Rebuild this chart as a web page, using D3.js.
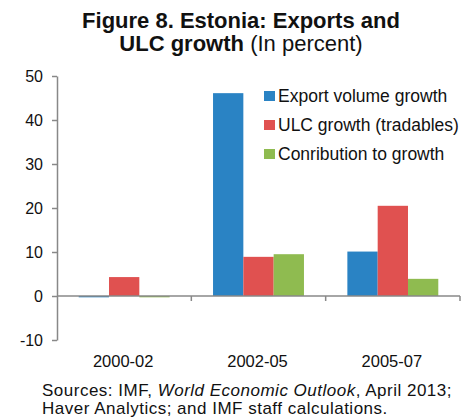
<!DOCTYPE html>
<html><head><meta charset="utf-8">
<script src="https://cdn.jsdelivr.net/npm/d3@7"></script>
<style>body{margin:0;background:#fff}svg{display:block;font-family:"Liberation Sans",Arial,sans-serif}</style>
</head><body><svg id="c" width="465" height="419"></svg>
<script>
const categories = ["2000-02", "2002-05", "2005-07"];
const seriesNames = ["Export volume growth", "ULC growth (tradables)", "Conribution to growth"];
const exportVolume = [-0.3, 46.1, 10.1];
const ulcGrowth = [4.3, 8.9, 20.5];
const contribution = [-0.3, 9.5, 3.9];
const yTicks = [-10, 0, 10, 20, 30, 40, 50];
const colors = ["#2a83c4", "#e05150", "#8fbb50"];

(function () {
const series = [exportVolume, ulcGrowth, contribution];
const svg = d3.select("#c");
const mLeft = 57, mRight = 460, mTop = 76, mBottom = 340;
const y = d3.scaleLinear().domain([-10, 50]).range([mBottom, mTop]);
const x = d3.scaleBand().domain(categories).range([mLeft, mRight]).paddingInner(0).paddingOuter(0);
const x1 = d3.scaleBand().domain(d3.range(3)).range([0, x.bandwidth()]).paddingOuter(0.716).paddingInner(0);

// title
const t = svg.append("text").attr("text-anchor", "middle").attr("fill", "#111");
t.append("tspan").attr("x", 241).attr("y", 28).attr("font-weight", "bold").attr("font-size", 22).text("Figure 8. Estonia: Exports and");
const t2 = t.append("tspan").attr("x", 241).attr("y", 51).attr("font-size", 22);
t2.append("tspan").attr("font-weight", "bold").text("ULC growth");
t2.append("tspan").text(" (In percent)");

// bars
const g = svg.append("g");
categories.forEach((c, i) => {
  series.forEach((s, j) => {
    const v = s[i];
    g.append("rect")
      .attr("x", x(c) + x1(j))
      .attr("width", x1.bandwidth())
      .attr("y", y(Math.max(0, v)))
      .attr("height", Math.max(1, Math.abs(y(v) - y(0))))
      .attr("fill", colors[j]);
  });
});

// y axis
const yAxis = svg.append("g").attr("transform", `translate(${mLeft},0)`)
  .call(d3.axisLeft(y).tickValues(yTicks).tickSize(5).tickPadding(9).tickSizeOuter(0).tickFormat(d => String(d)));
yAxis.select(".domain").attr("stroke", "#888").attr("stroke-width", 1.5);
yAxis.selectAll(".tick line").attr("stroke", "#888").attr("stroke-width", 1.5);
yAxis.selectAll("text").attr("font-size", 16).attr("fill", "#111").attr("font-family", "Liberation Sans, Arial, sans-serif");

// x axis at zero
const xAxisG = svg.append("g").attr("transform", `translate(0,${y(0)})`);
xAxisG.append("line").attr("x1", mLeft).attr("x2", mRight).attr("stroke", "#888").attr("stroke-width", 1.5);
categories.forEach(c => {
  xAxisG.append("line").attr("x1", x(c) + x.bandwidth()).attr("x2", x(c) + x.bandwidth())
    .attr("y1", 0).attr("y2", 5).attr("stroke", "#888").attr("stroke-width", 1.5);
});
// category labels
categories.forEach(c => {
  svg.append("text").attr("x", x(c) + x.bandwidth() / 2 - 1).attr("y", 367)
    .attr("text-anchor", "middle").attr("font-size", 16.5).attr("fill", "#111").text(c);
});

// legend
const leg = svg.append("g");
seriesNames.forEach((n, j) => {
  const yy = 96 + j * 29;
  leg.append("rect").attr("x", 264).attr("y", yy - 5).attr("width", 11).attr("height", 10).attr("fill", colors[j]);
  leg.append("text").attr("x", 278).attr("y", yy + 6).attr("font-size", 17.5).attr("fill", "#111").text(n);
});

// source
const src = svg.append("text").attr("font-size", 17).attr("letter-spacing", 0.5).attr("fill", "#111");
const l1 = src.append("tspan").attr("x", 42).attr("y", 396);
l1.append("tspan").text("Sources: IMF, ");
l1.append("tspan").attr("font-style", "italic").text("World Economic Outlook");
l1.append("tspan").text(", April 2013;");
src.append("tspan").attr("x", 42).attr("y", 414).text("Haver Analytics; and IMF staff calculations.");
})();
</script></body></html>
